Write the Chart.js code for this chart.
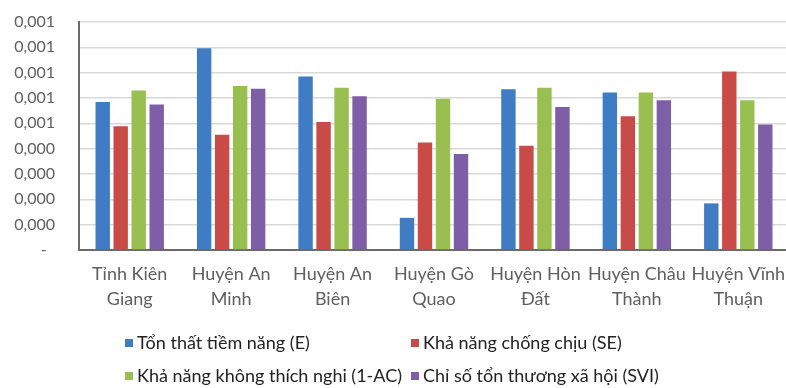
<!DOCTYPE html>
<html>
<head>
<meta charset="utf-8">
<script src="https://cdn.jsdelivr.net/npm/chart.js@4/dist/chart.umd.min.js"></script>
<style>
  html, body { margin: 0; padding: 0; background: #ffffff; overflow: hidden; }
  #wrap { width: 789px; height: 388px; }
</style>
</head>
<body>
<div id="wrap"><canvas id="chart" width="789" height="388"></canvas></div>
<script>
// Districts of Kiên Giang (two-line labels)
const categories = [
  ["Tỉnh Kiên", "Giang"],
  ["Huyện An", "Minh"],
  ["Huyện An", "Biên"],
  ["Huyện Gò", "Quao"],
  ["Huyện Hòn", "Đất"],
  ["Huyện Châu", "Thành"],
  ["Huyện Vĩnh", "Thuận"]
];

const seriesNames = [
  "Tổn thất tiềm năng (E)",
  "Khả năng chống chịu (SE)",
  "Khả năng không thích nghi (1-AC)",
  "Chỉ số tổn thương xã hội (SVI)"
];

// Index values per district
const exposure    = [0.000584, 0.000796, 0.000685, 0.000127, 0.000635, 0.000622, 0.000184];
const sensitivity = [0.000488, 0.000455, 0.000505, 0.000424, 0.000412, 0.000528, 0.000705];
const nonAdaptive = [0.000630, 0.000647, 0.000640, 0.000597, 0.000640, 0.000622, 0.000591];
const svi         = [0.000574, 0.000637, 0.000607, 0.000379, 0.000564, 0.000591, 0.000495];

// Value axis ticks and their printed labels (3 decimals, comma separator)
const yTickValues = [0, 0.0001, 0.0002, 0.0003, 0.0004, 0.0005, 0.0006, 0.0007, 0.0008, 0.0009];
const yTickLabels = ["-  ", "0,000", "0,000", "0,000", "0,000", "0,001", "0,001", "0,001", "0,001", "0,001"];

const seriesColors = ["#3f7cc4", "#c84b47", "#98bf50", "#7e5ea6"];

// Two-column legend under the axis labels
const gridLegend = {
  id: 'gridLegend',
  afterDraw(chart) {
    const ctx = chart.ctx;
    const cols = [125, 411];
    const rows = [343, 376];
    ctx.save();
    ctx.font = '18px Lato';
    ctx.textBaseline = 'middle';
    ctx.textAlign = 'left';
    chart.data.datasets.forEach((ds, i) => {
      const x = cols[i % 2];
      const y = rows[Math.floor(i / 2)];
      ctx.fillStyle = ds.backgroundColor;
      ctx.fillRect(x, y - 4, 8, 8);
      ctx.fillStyle = '#222222';
      ctx.fillText(ds.label, x + 12, y);
    });
    ctx.restore();
  }
};

const seriesValues = [exposure, sensitivity, nonAdaptive, svi];

new Chart(document.getElementById('chart'), {
  type: 'bar',
  data: {
    labels: categories,
    datasets: seriesValues.map((vals, i) => ({
      label: seriesNames[i],
      data: vals,
      backgroundColor: seriesColors[i],
      borderWidth: 0,
      categoryPercentage: 0.71,
      barPercentage: 0.8
    }))
  },
  options: {
    responsive: false,
    animation: false,
    devicePixelRatio: 1,
    layout: { padding: { top: 22, right: 0, bottom: 0, left: 0 } },
    plugins: {
      legend: { display: false },
      tooltip: { enabled: false }
    },
    scales: {
      x: {
        grid: { display: false, drawTicks: false },
        border: { display: true, color: '#6a6a6a', width: 2 },
        ticks: {
          autoSkip: false,
          maxRotation: 0,
          minRotation: 0,
          color: '#5f5f5f',
          padding: 12,
          font: { family: 'Lato', size: 18, lineHeight: 1.39 }
        },
        afterFit(scale) { scale.height = 138; scale.paddingLeft = 0; scale.paddingRight = 0; }
      },
      y: {
        min: 0,
        max: 0.0009,
        afterBuildTicks(scale) { scale.ticks = yTickValues.map(v => ({ value: v })); },
        grid: { color: '#d9d9d9', lineWidth: 1.5, drawTicks: false },
        border: { display: true, color: '#6a6a6a', width: 2 },
        ticks: {
          color: '#5f5f5f',
          padding: 24,
          font: { family: 'Lato', size: 16 },
          callback: (v, i) => yTickLabels[i]
        },
        afterFit(scale) { scale.width = 79; scale.paddingTop = 0; scale.paddingBottom = 0; }
      }
    }
  },
  plugins: [gridLegend]
});
</script>
</body>
</html>
